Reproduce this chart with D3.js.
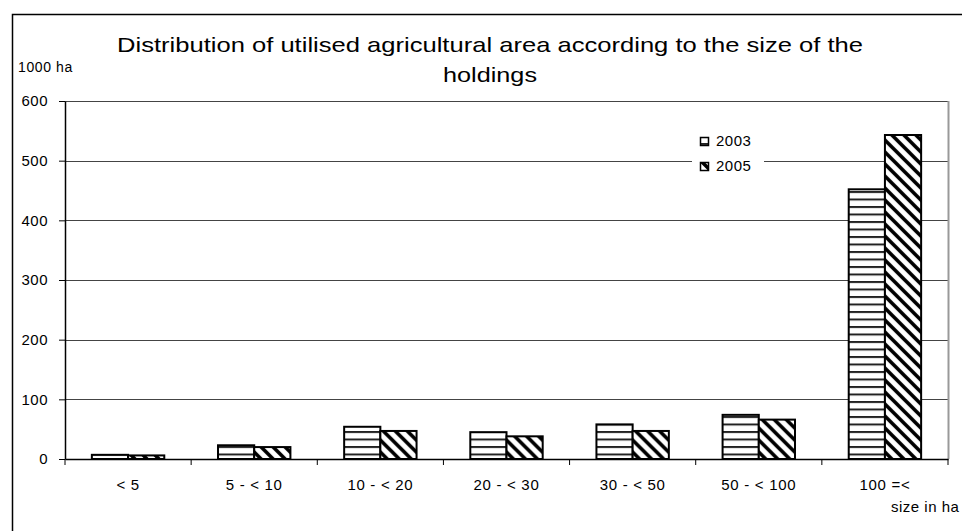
<!DOCTYPE html>
<html>
<head>
<meta charset="utf-8">
<script src="https://cdn.jsdelivr.net/npm/d3@7"></script>
<style>
  body { margin: 0; background: #fff; }
  text { font-family: "Liberation Sans", Arial, sans-serif; fill: #000; }
</style>
</head>
<body>
<div id="chart"></div>
<script>
// data (1000 ha)
var categories = ["< 5", "5 - < 10", "10 - < 20", "20 - < 30", "30 - < 50", "50 - < 100", "100 =<"];
var years = ["2003", "2005"];
var values2003 = [7, 23, 54, 45, 58, 74, 452];
var values2005 = [6, 20, 47, 38, 47, 66, 543];
var yTicks = [0, 100, 200, 300, 400, 500, 600];

var W = 962, H = 531;
var margin = {top: 101, right: 14, bottom: 72, left: 65},
    width = W - margin.left - margin.right,
    height = H - margin.top - margin.bottom;

var root = d3.select("#chart")
  .append("svg")
    .attr("width", W)
    .attr("height", H);

// patterns
var defs = root.append("defs");
var ph = defs.append("pattern")
    .attr("id", "hstripe")
    .attr("patternUnits", "userSpaceOnUse")
    .attr("width", 8).attr("height", 7.5);
ph.append("rect").attr("width", 8).attr("height", 7.5).attr("fill", "#fff");
ph.append("rect").attr("y", 0).attr("width", 8).attr("height", 2).attr("fill", "#222");

var pd = defs.append("pattern")
    .attr("id", "dstripe")
    .attr("patternUnits", "userSpaceOnUse")
    .attr("width", 12).attr("height", 12);
pd.append("rect").attr("width", 12).attr("height", 12).attr("fill", "#fff");
pd.append("path")
    .attr("d", "M0,0 L12,12 M-6,6 L6,18 M6,-6 L18,6")
    .attr("stroke", "#000")
    .attr("stroke-width", 3.6);

var fills = {"2003": "url(#hstripe)", "2005": "url(#dstripe)"};

// outer frame
root.append("path")
    .attr("d", "M12.5," + H + " L12.5,14.5 L" + W + ",14.5")
    .attr("fill", "none")
    .attr("stroke", "#000")
    .attr("stroke-width", 1.5);

// title
var title = root.append("text")
    .attr("text-anchor", "middle")
    .attr("font-size", "21px");
title.append("tspan").attr("x", 490).attr("y", 52)
    .attr("textLength", 746).attr("lengthAdjust", "spacingAndGlyphs")
    .text("Distribution of utilised agricultural area according to the size of the");
title.append("tspan").attr("x", 490).attr("y", 82)
    .attr("textLength", 94).attr("lengthAdjust", "spacingAndGlyphs")
    .text("holdings");

root.append("text")
    .attr("x", 18).attr("y", 72)
    .attr("font-size", "14px")
    .attr("letter-spacing", "0.6px")
    .text("1000 ha");

var svg = root.append("g")
    .attr("transform", "translate(" + margin.left + "," + margin.top + ")");

var x = d3.scaleBand()
    .domain(categories)
    .range([0, width]);

var x1 = d3.scaleBand()
    .domain(years)
    .range([x.bandwidth() * 0.213, x.bandwidth() * 0.787]);

var y = d3.scaleLinear()
    .domain([0, 600])
    .range([height, 0]);

// gridlines
svg.append("g")
  .selectAll("line")
  .data(yTicks.slice(1))
  .enter().append("line")
    .attr("x1", 0).attr("x2", width)
    .attr("y1", function(d) { return Math.round(y(d)) + 0.5; })
    .attr("y2", function(d) { return Math.round(y(d)) + 0.5; })
    .attr("stroke", "#444")
    .attr("stroke-width", 1);

// plot area right border
svg.append("line")
    .attr("x1", width + 0.5).attr("x2", width + 0.5)
    .attr("y1", 0).attr("y2", height)
    .attr("stroke", "#999")
    .attr("stroke-width", 2);

// bars
var rows = categories.map(function(c, i) {
  return {cat: c, vals: [{year: "2003", v: values2003[i]}, {year: "2005", v: values2005[i]}]};
});

svg.append("g")
  .selectAll("g")
  .data(rows)
  .enter().append("g")
    .attr("transform", function(d) { return "translate(" + x(d.cat) + ",0)"; })
  .selectAll("rect")
  .data(function(d) { return d.vals; })
  .enter().append("rect")
    .attr("x", function(d) { return x1(d.year); })
    .attr("y", function(d) { return y(d.v); })
    .attr("width", x1.bandwidth())
    .attr("height", function(d) { return y(0) - y(d.v); })
    .attr("fill", function(d) { return fills[d.year]; })
    .attr("stroke", "#000")
    .attr("stroke-width", 2);

// y axis
var yAxis = svg.append("g")
    .call(d3.axisLeft(y).tickValues(yTicks).tickSize(6).tickPadding(11).tickSizeOuter(0));
yAxis.select(".domain").attr("stroke", "#000").attr("stroke-width", 1.5);
yAxis.selectAll(".tick line").attr("stroke", "#000");
yAxis.selectAll("text")
    .attr("font-size", "15px")
    .attr("letter-spacing", "0.5px")
    .attr("font-family", "Liberation Sans, Arial, sans-serif");

// x axis
var xAxis = svg.append("g")
    .attr("transform", "translate(0," + height + ")")
    .call(d3.axisBottom(x).tickSize(0).tickPadding(20).tickSizeOuter(0));
xAxis.select(".domain").attr("stroke", "#000").attr("stroke-width", 1.5);
xAxis.selectAll("text")
    .attr("font-size", "15px")
    .attr("letter-spacing", "0.7px")
    .attr("font-family", "Liberation Sans, Arial, sans-serif");

// category separator ticks
xAxis.append("g")
  .selectAll("line")
  .data(d3.range(categories.length + 1))
  .enter().append("line")
    .attr("x1", function(i) { return i * x.step(); })
    .attr("x2", function(i) { return i * x.step(); })
    .attr("y1", 0).attr("y2", 6)
    .attr("stroke", "#000");

root.append("text")
    .attr("x", 891).attr("y", 512)
    .attr("font-size", "15px")
    .attr("letter-spacing", "0.5px")
    .text("size in ha");

// legend
var legend = root.append("g")
    .attr("transform", "translate(692,128)");
legend.append("rect")
    .attr("width", 72).attr("height", 50)
    .attr("fill", "#fff");

legend.selectAll("rect.key")
  .data(years)
  .enter().append("rect")
    .attr("class", "key")
    .attr("x", 8.5)
    .attr("y", function(d, i) { return 9.5 + i * 25; })
    .attr("width", 8).attr("height", 8)
    .attr("fill", function(d) { return fills[d]; })
    .attr("stroke", "#000")
    .attr("stroke-width", 1.5);

legend.selectAll("text")
  .data(years)
  .enter().append("text")
    .attr("x", 24)
    .attr("y", function(d, i) { return 18 + i * 25; })
    .attr("font-size", "15px")
    .attr("letter-spacing", "0.5px")
    .text(function(d) { return d; });
</script>
</body>
</html>
